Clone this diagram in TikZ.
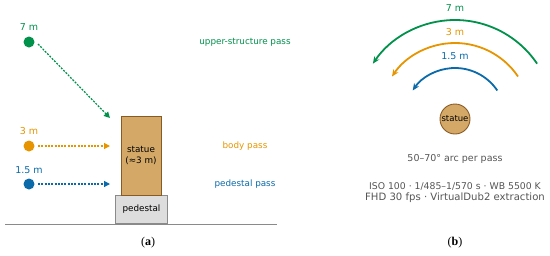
\documentclass[tikz,border=0pt]{standalone}
\usepackage{fontspec}
\setmainfont{DejaVu Sans}
\newfontfamily\capfont{Liberation Serif}
\usetikzlibrary{arrows.meta}
\definecolor{cgreen}{HTML}{00914A}
\definecolor{corange}{HTML}{E69500}
\definecolor{cblue}{HTML}{0A6AAA}
\definecolor{ctan}{HTML}{D4A968}
\definecolor{cbrown}{HTML}{8A5A24}
\definecolor{cgray}{HTML}{555555}
\definecolor{cped}{HTML}{DDDDDD}
\definecolor{cpedb}{HTML}{8A8A8A}
\tikzset{
  dot/.style={circle,inner sep=0pt,minimum size=11pt},
  lbl/.style={inner sep=0pt,font=\fontsize{8.8}{10}\selectfont},
  pass/.style={dash pattern=on 2pt off 1.3pt,line width=1.2pt,-{Triangle[length=6pt,width=6pt]}},
  arcar/.style={line width=1.8pt,-{Stealth[length=7pt,width=6pt]}},
  capt/.style={inner sep=0pt,font=\capfont\fontsize{12}{14}\selectfont},
  info/.style={inner sep=0pt,text=cgray,font=\fontsize{9.5}{11}\selectfont,align=center}
}
\begin{document}
\begin{tikzpicture}[x=1pt,y=-1pt]
\useasboundingbox (0,0) rectangle (550,255);
% panel (a)
\draw[cpedb,line width=0.9pt] (5,224) -- (277,224);
\node[draw=cpedb,fill=cped,line width=0.9pt,minimum width=52pt,minimum height=28pt,inner sep=0pt,anchor=north west] (ped) at (115,195) {};
\node[lbl] at (ped.center) {pedestal};
\node[draw=cbrown,fill=ctan,line width=0.9pt,minimum width=40pt,minimum height=79pt,inner sep=0pt,anchor=north west] (stat) at (121,116) {};
\node[lbl,align=center,font=\fontsize{8.8}{11}\selectfont] at (141,155.5) {statue\\(≈3 m)};
\node[dot,fill=cgreen] (d7) at (29,42) {};
\node[dot,fill=corange] (d3) at (29,146) {};
\node[dot,fill=cblue] (d15) at (29,184) {};
\node[lbl,text=cgreen,font=\fontsize{9.5}{11}\selectfont] at (29,27) {7 m};
\node[lbl,text=corange,font=\fontsize{9.5}{11}\selectfont] at (29,131) {3 m};
\node[lbl,text=cblue,font=\fontsize{9.5}{11}\selectfont] at (29,170) {1.5 m};
\coordinate (t7) at (110,118);
\coordinate (t3) at (110,146);
\coordinate (t15) at (110,184);
\draw[pass,cgreen] (38,44) -- (t7);
\draw[pass,corange] (38,146) -- (t3);
\draw[pass,cblue] (38,184) -- (t15);
\node[lbl,text=cgreen] at (245,42) {upper-structure pass};
\node[lbl,text=corange] at (245,146) {body pass};
\node[lbl,text=cblue] at (245,184) {pedestal pass};
\node[capt] at (148,243) {(\textbf{a})};
% panel (b)
\node[circle,draw=cbrown,fill=ctan,line width=0.9pt,minimum size=30pt,inner sep=0pt] (sc) at (455,119) {};
\node[inner sep=0pt,font=\fontsize{8.5}{9}\selectfont] at (sc.center) {statue};
\draw[arcar,cgreen] ([shift={(-34:99)}]sc.center) arc[start angle=-34,end angle=-146,radius=99];
\draw[arcar,corange] ([shift={(-34:76)}]sc.center) arc[start angle=-34,end angle=-146,radius=76];
\draw[arcar,cblue] ([shift={(-34:51)}]sc.center) arc[start angle=-34,end angle=-146,radius=51];
\node[lbl,text=cgreen,font=\fontsize{9.5}{11}\selectfont] at (455,8) {7 m};
\node[lbl,text=corange,font=\fontsize{9.5}{11}\selectfont] at (455,32) {3 m};
\node[lbl,text=cblue,font=\fontsize{9.5}{11}\selectfont] at (455,56) {1.5 m};
\node[info] at (455,159) {50–70° arc per pass};
\node[info,font=\fontsize{9.3}{11}\selectfont] at (455,186) {ISO 100 · 1/485–1/570 s · WB 5500 K};
\node[info,font=\fontsize{10.1}{11}\selectfont] at (455,197.5) {FHD 30 fps · VirtualDub2 extraction};
\node[capt] at (455,243) {(\textbf{b})};
\end{tikzpicture}
\end{document}
